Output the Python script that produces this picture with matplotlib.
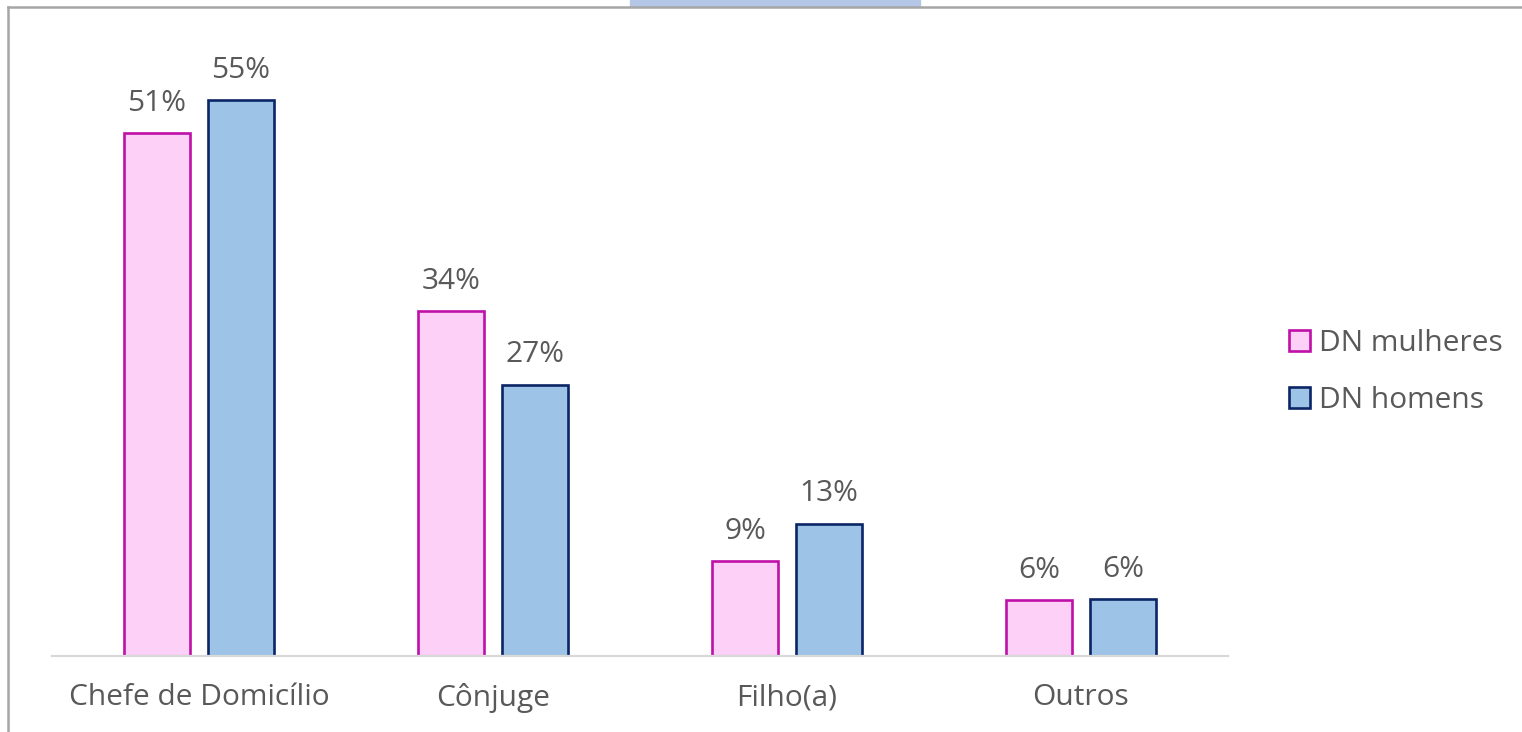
import numpy as np
import matplotlib.pyplot as plt
from matplotlib.patches import Rectangle, Patch
from matplotlib.lines import Line2D

categories = ['Chefe de Domicílio', 'Cônjuge', 'Filho(a)', 'Outros']
mulheres = [51.4, 33.9, 9.35, 5.51]
homens = [54.7, 26.7, 13.0, 5.61]
series_names = ['DN mulheres', 'DN homens']

plt.rcParams['font.family'] = ['Open Sans', 'DejaVu Sans']
text_color = '#595959'
fs = 21.5

fig = plt.figure(figsize=(15.22, 7.32), dpi=100)
ax = fig.add_axes([52 / 1522, 76 / 732, 1176 / 1522, 610 / 732])

x = np.arange(len(categories))
off = 0.143
w = 0.225
b1 = ax.bar(x - off, mulheres, w, color='#fdd0f8', edgecolor='#bf10a8', linewidth=1.9)
b2 = ax.bar(x + off, homens, w, color='#9dc3e6', edgecolor='#0b2566', linewidth=1.9)

for bars, vals in [(b1, mulheres), (b2, homens)]:
    for bar, v in zip(bars, vals):
        ax.annotate(f'{round(v):.0f}%', (bar.get_x() + bar.get_width() / 2, v),
                    xytext=(0, 21.5), textcoords='offset points', ha='center', va='center',
                    fontsize=fs, color=text_color)

ax.set_xlim(-0.5, 3.5)
ax.set_ylim(0, 60)
ax.set_xticks(x)
ax.set_xticklabels(categories, fontsize=fs, color=text_color)
ax.tick_params(axis='x', length=0, pad=19.5)
ax.set_yticks([])
for s in ['top', 'right', 'left']:
    ax.spines[s].set_visible(False)
ax.spines['bottom'].set_color('#d9d9d9')
ax.spines['bottom'].set_linewidth(1.6)

handles = [Patch(facecolor='#fdd0f8', edgecolor='#bf10a8', linewidth=1.9),
           Patch(facecolor='#9dc3e6', edgecolor='#0b2566', linewidth=1.9)]
leg = fig.legend(handles, series_names, loc='center left', bbox_to_anchor=(1262 / 1522, 1 - 372 / 732),
                 frameon=False, fontsize=fs, handlelength=0.7, handleheight=0.7,
                 handletextpad=0.3, labelspacing=0.95)
for t in leg.get_texts():
    t.set_color(text_color)

# chart frame and top tab
fig.add_artist(Line2D([8 / 1522, 1], [1 - 7 / 732, 1 - 7 / 732], color='#a6a6a6', linewidth=1.8))
fig.add_artist(Line2D([8 / 1522, 8 / 1522], [0, 1 - 7 / 732], color='#a6a6a6', linewidth=1.8))
fig.add_artist(Rectangle((630 / 1522, 1 - 6 / 732), 290 / 1522, 6 / 732, color='#b4c7e7'))

fig.savefig('out.png', dpi=100)
